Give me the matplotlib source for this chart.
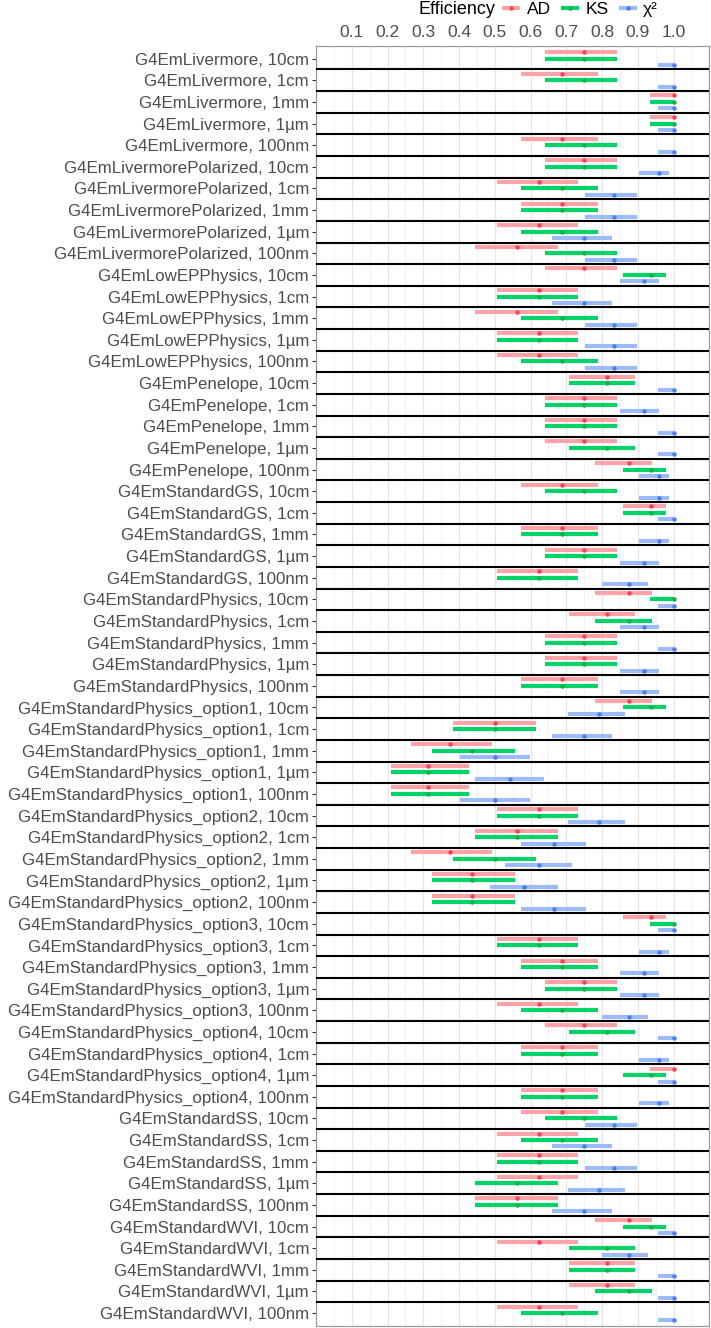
import numpy as np
import matplotlib.pyplot as plt
from matplotlib.lines import Line2D

plt.rcParams['font.family'] = ['Liberation Sans', 'DejaVu Sans']

labels = [
    "G4EmLivermore, 10cm", "G4EmLivermore, 1cm", "G4EmLivermore, 1mm",
    "G4EmLivermore, 1µm", "G4EmLivermore, 100nm",
    "G4EmLivermorePolarized, 10cm", "G4EmLivermorePolarized, 1cm", "G4EmLivermorePolarized, 1mm",
    "G4EmLivermorePolarized, 1µm", "G4EmLivermorePolarized, 100nm",
    "G4EmLowEPPhysics, 10cm", "G4EmLowEPPhysics, 1cm", "G4EmLowEPPhysics, 1mm",
    "G4EmLowEPPhysics, 1µm", "G4EmLowEPPhysics, 100nm",
    "G4EmPenelope, 10cm", "G4EmPenelope, 1cm", "G4EmPenelope, 1mm",
    "G4EmPenelope, 1µm", "G4EmPenelope, 100nm",
    "G4EmStandardGS, 10cm", "G4EmStandardGS, 1cm", "G4EmStandardGS, 1mm",
    "G4EmStandardGS, 1µm", "G4EmStandardGS, 100nm",
    "G4EmStandardPhysics, 10cm", "G4EmStandardPhysics, 1cm", "G4EmStandardPhysics, 1mm",
    "G4EmStandardPhysics, 1µm", "G4EmStandardPhysics, 100nm",
    "G4EmStandardPhysics_option1, 10cm", "G4EmStandardPhysics_option1, 1cm",
    "G4EmStandardPhysics_option1, 1mm", "G4EmStandardPhysics_option1, 1µm",
    "G4EmStandardPhysics_option1, 100nm",
    "G4EmStandardPhysics_option2, 10cm", "G4EmStandardPhysics_option2, 1cm",
    "G4EmStandardPhysics_option2, 1mm", "G4EmStandardPhysics_option2, 1µm",
    "G4EmStandardPhysics_option2, 100nm",
    "G4EmStandardPhysics_option3, 10cm", "G4EmStandardPhysics_option3, 1cm",
    "G4EmStandardPhysics_option3, 1mm", "G4EmStandardPhysics_option3, 1µm",
    "G4EmStandardPhysics_option3, 100nm",
    "G4EmStandardPhysics_option4, 10cm", "G4EmStandardPhysics_option4, 1cm",
    "G4EmStandardPhysics_option4, 1µm", "G4EmStandardPhysics_option4, 100nm",
    "G4EmStandardSS, 10cm", "G4EmStandardSS, 1cm", "G4EmStandardSS, 1mm",
    "G4EmStandardSS, 1µm", "G4EmStandardSS, 100nm",
    "G4EmStandardWVI, 10cm", "G4EmStandardWVI, 1cm", "G4EmStandardWVI, 1mm",
    "G4EmStandardWVI, 1µm", "G4EmStandardWVI, 100nm",
]

# AD
ad_mid = [0.75, 0.6875, 1.0, 1.0, 0.6875,
          0.75, 0.625, 0.6875, 0.625, 0.5625,
          0.75, 0.625, 0.5625, 0.625, 0.625,
          0.8125, 0.75, 0.75, 0.75, 0.875,
          0.6875, 0.9375, 0.6875, 0.75, 0.625,
          0.875, 0.8125, 0.75, 0.75, 0.6875,
          0.875, 0.5, 0.375, 0.3125, 0.3125,
          0.625, 0.5625, 0.375, 0.4375, 0.4375,
          0.9375, 0.625, 0.6875, 0.75, 0.625,
          0.75, 0.6875, 1.0, 0.6875,
          0.6875, 0.625, 0.625, 0.625, 0.5625,
          0.875, 0.625, 0.8125, 0.8125, 0.625]
ad_lo = [0.640, 0.573, 0.935, 0.935, 0.573,
         0.640, 0.507, 0.573, 0.507, 0.444,
         0.640, 0.507, 0.444, 0.507, 0.507,
         0.709, 0.640, 0.640, 0.640, 0.781,
         0.573, 0.858, 0.573, 0.640, 0.507,
         0.781, 0.709, 0.640, 0.640, 0.573,
         0.781, 0.382, 0.267, 0.211, 0.211,
         0.507, 0.444, 0.267, 0.325, 0.325,
         0.858, 0.507, 0.573, 0.640, 0.507,
         0.640, 0.573, 0.935, 0.573,
         0.573, 0.507, 0.507, 0.507, 0.444,
         0.781, 0.507, 0.709, 0.709, 0.507]
ad_hi = [0.843, 0.790, 1.0, 1.0, 0.790,
         0.843, 0.734, 0.790, 0.734, 0.677,
         0.843, 0.734, 0.677, 0.734, 0.734,
         0.891, 0.843, 0.843, 0.843, 0.939,
         0.790, 0.980, 0.790, 0.843, 0.734,
         0.939, 0.891, 0.843, 0.843, 0.790,
         0.939, 0.616, 0.493, 0.428, 0.428,
         0.734, 0.677, 0.493, 0.556, 0.556,
         0.980, 0.734, 0.790, 0.843, 0.734,
         0.843, 0.790, 1.0, 0.790,
         0.790, 0.734, 0.734, 0.734, 0.677,
         0.939, 0.734, 0.891, 0.891, 0.734]

# KS
ks_mid = [0.75, 0.75, 1.0, 1.0, 0.75,
          0.75, 0.6875, 0.6875, 0.6875, 0.75,
          0.9375, 0.625, 0.6875, 0.625, 0.6875,
          0.8125, 0.75, 0.75, 0.8125, 0.9375,
          0.75, 0.9375, 0.6875, 0.75, 0.625,
          1.0, 0.875, 0.75, 0.75, 0.6875,
          0.9375, 0.5, 0.4375, 0.3125, 0.3125,
          0.625, 0.5625, 0.5, 0.4375, 0.4375,
          1.0, 0.625, 0.6875, 0.75, 0.6875,
          0.8125, 0.6875, 0.9375, 0.6875,
          0.75, 0.6875, 0.625, 0.5625, 0.5625,
          0.9375, 0.8125, 0.8125, 0.875, 0.6875]
ks_lo = [0.640, 0.640, 0.935, 0.935, 0.640,
         0.640, 0.573, 0.573, 0.573, 0.640,
         0.858, 0.507, 0.573, 0.507, 0.573,
         0.709, 0.640, 0.640, 0.709, 0.858,
         0.640, 0.858, 0.573, 0.640, 0.507,
         0.935, 0.781, 0.640, 0.640, 0.573,
         0.858, 0.382, 0.325, 0.211, 0.211,
         0.507, 0.444, 0.382, 0.325, 0.325,
         0.935, 0.507, 0.573, 0.640, 0.573,
         0.709, 0.573, 0.858, 0.573,
         0.640, 0.573, 0.507, 0.444, 0.444,
         0.858, 0.709, 0.709, 0.781, 0.573]
ks_hi = [0.843, 0.843, 1.0, 1.0, 0.843,
         0.843, 0.790, 0.790, 0.790, 0.843,
         0.980, 0.734, 0.790, 0.734, 0.790,
         0.891, 0.843, 0.843, 0.891, 0.980,
         0.843, 0.980, 0.790, 0.843, 0.734,
         1.0, 0.939, 0.843, 0.843, 0.790,
         0.980, 0.616, 0.556, 0.428, 0.428,
         0.734, 0.677, 0.616, 0.556, 0.556,
         1.0, 0.734, 0.790, 0.843, 0.790,
         0.891, 0.790, 0.980, 0.790,
         0.843, 0.790, 0.734, 0.677, 0.677,
         0.980, 0.891, 0.891, 0.939, 0.790]

# chi2
chi_mid = [1.0, 1.0, 1.0, 1.0, 1.0,
           0.958, 0.833, 0.833, 0.75, 0.833,
           0.917, 0.75, 0.833, 0.833, 0.833,
           1.0, 0.917, 1.0, 1.0, 0.958,
           0.958, 1.0, 0.958, 0.917, 0.875,
           1.0, 0.917, 1.0, 0.917, 0.917,
           0.792, 0.75, 0.5, 0.542, 0.5,
           0.792, 0.667, 0.625, 0.583, 0.667,
           1.0, 0.958, 0.917, 0.917, 0.875,
           1.0, 0.958, 1.0, 0.958,
           0.833, 0.75, 0.833, 0.792, 0.75,
           1.0, 0.875, 1.0, 1.0, 1.0]
chi_lo = [0.956, 0.956, 0.956, 0.956, 0.956,
          0.902, 0.752, 0.752, 0.660, 0.752,
          0.851, 0.660, 0.752, 0.752, 0.752,
          0.956, 0.851, 0.956, 0.956, 0.902,
          0.902, 0.956, 0.902, 0.851, 0.801,
          0.956, 0.851, 0.956, 0.851, 0.851,
          0.705, 0.660, 0.402, 0.444, 0.402,
          0.705, 0.573, 0.528, 0.486, 0.573,
          0.956, 0.902, 0.851, 0.851, 0.801,
          0.956, 0.902, 0.956, 0.902,
          0.752, 0.660, 0.752, 0.705, 0.660,
          0.956, 0.801, 0.956, 0.956, 0.956]
chi_hi = [1.0, 1.0, 1.0, 1.0, 1.0,
          0.986, 0.897, 0.897, 0.829, 0.897,
          0.960, 0.829, 0.897, 0.897, 0.897,
          1.0, 0.960, 1.0, 1.0, 0.986,
          0.986, 1.0, 0.986, 0.960, 0.929,
          1.0, 0.960, 1.0, 0.960, 0.960,
          0.864, 0.829, 0.598, 0.638, 0.598,
          0.864, 0.754, 0.717, 0.677, 0.754,
          1.0, 0.986, 0.960, 0.960, 0.929,
          1.0, 0.986, 1.0, 0.986,
          0.897, 0.829, 0.897, 0.864, 0.829,
          1.0, 0.929, 1.0, 1.0, 1.0]

n = len(labels)
ypos = np.arange(n, 0, -1)

fig = plt.figure(figsize=(7.11, 13.28), dpi=100)
ax = fig.add_axes([316 / 711, 2 / 1328, 393.3 / 711, 1280.3 / 1328])

series = [
    ("AD", ad_lo, ad_mid, ad_hi, "#FFA3A8", "#F8405A", 0.3),
    ("KS", ks_lo, ks_mid, ks_hi, "#00D468", "#12B043", 0.0),
    ("χ²", chi_lo, chi_mid, chi_hi, "#9DBBF8", "#4A7FF2", -0.3),
]
handles = []
for name, lo, mid, hi, c_bar, c_dot, off in series:
    ax.hlines(ypos + off, lo, hi, color=c_bar, lw=3, zorder=2)
    ax.plot(mid, ypos + off, "o", color=c_dot, ms=3.2, mew=0, zorder=3)
    handles.append(Line2D([0], [0], color=c_bar, lw=3, marker="o",
                          markerfacecolor=c_dot, markeredgewidth=0, markersize=3.2))

# row separators
for y in np.arange(1.5, n, 1.0):
    ax.axhline(y, color="black", lw=1.5, zorder=4)

ax.set_xlim(0, 1.1)
ax.set_ylim(0.4, n + 0.6)
ax.xaxis.tick_top()
ax.set_xticks(np.arange(1, 11) / 10)
ax.set_xticklabels([f"{v / 10:.1f}" for v in range(1, 11)])
ax.set_xticks(np.arange(0.5, 11, 1) / 10, minor=True)
ax.grid(True, which="major", axis="x", color="#E6E6E6", lw=0.9, zorder=0)
ax.grid(True, which="minor", axis="x", color="#F0F0F0", lw=0.6, zorder=0)
ax.set_axisbelow(True)
ax.tick_params(axis="x", which="both", length=0, labelsize=12.5,
               labelcolor="#4D4D4D", pad=4)
ax.set_yticks(ypos)
ax.set_yticklabels(labels)
ax.tick_params(axis="y", length=3, width=0.8, color="#333333", labelsize=12.2,
               labelcolor="#4D4D4D", pad=2)
for s in ax.spines.values():
    s.set_color("#9A9A9A")
    s.set_linewidth(0.9)

fig.text(418 / 711, 1 - 9 / 1328, "Efficiency", fontsize=13, ha="left", va="center")
fig.legend(handles, [s[0] for s in series], loc="center left",
           bbox_to_anchor=(504 / 711, 1 - 9 / 1328), ncol=3, frameon=False,
           fontsize=12.5, handlelength=0.8, handletextpad=0.5, columnspacing=0.7,
           borderpad=0, borderaxespad=0)

fig.savefig("out.png", dpi=100)
